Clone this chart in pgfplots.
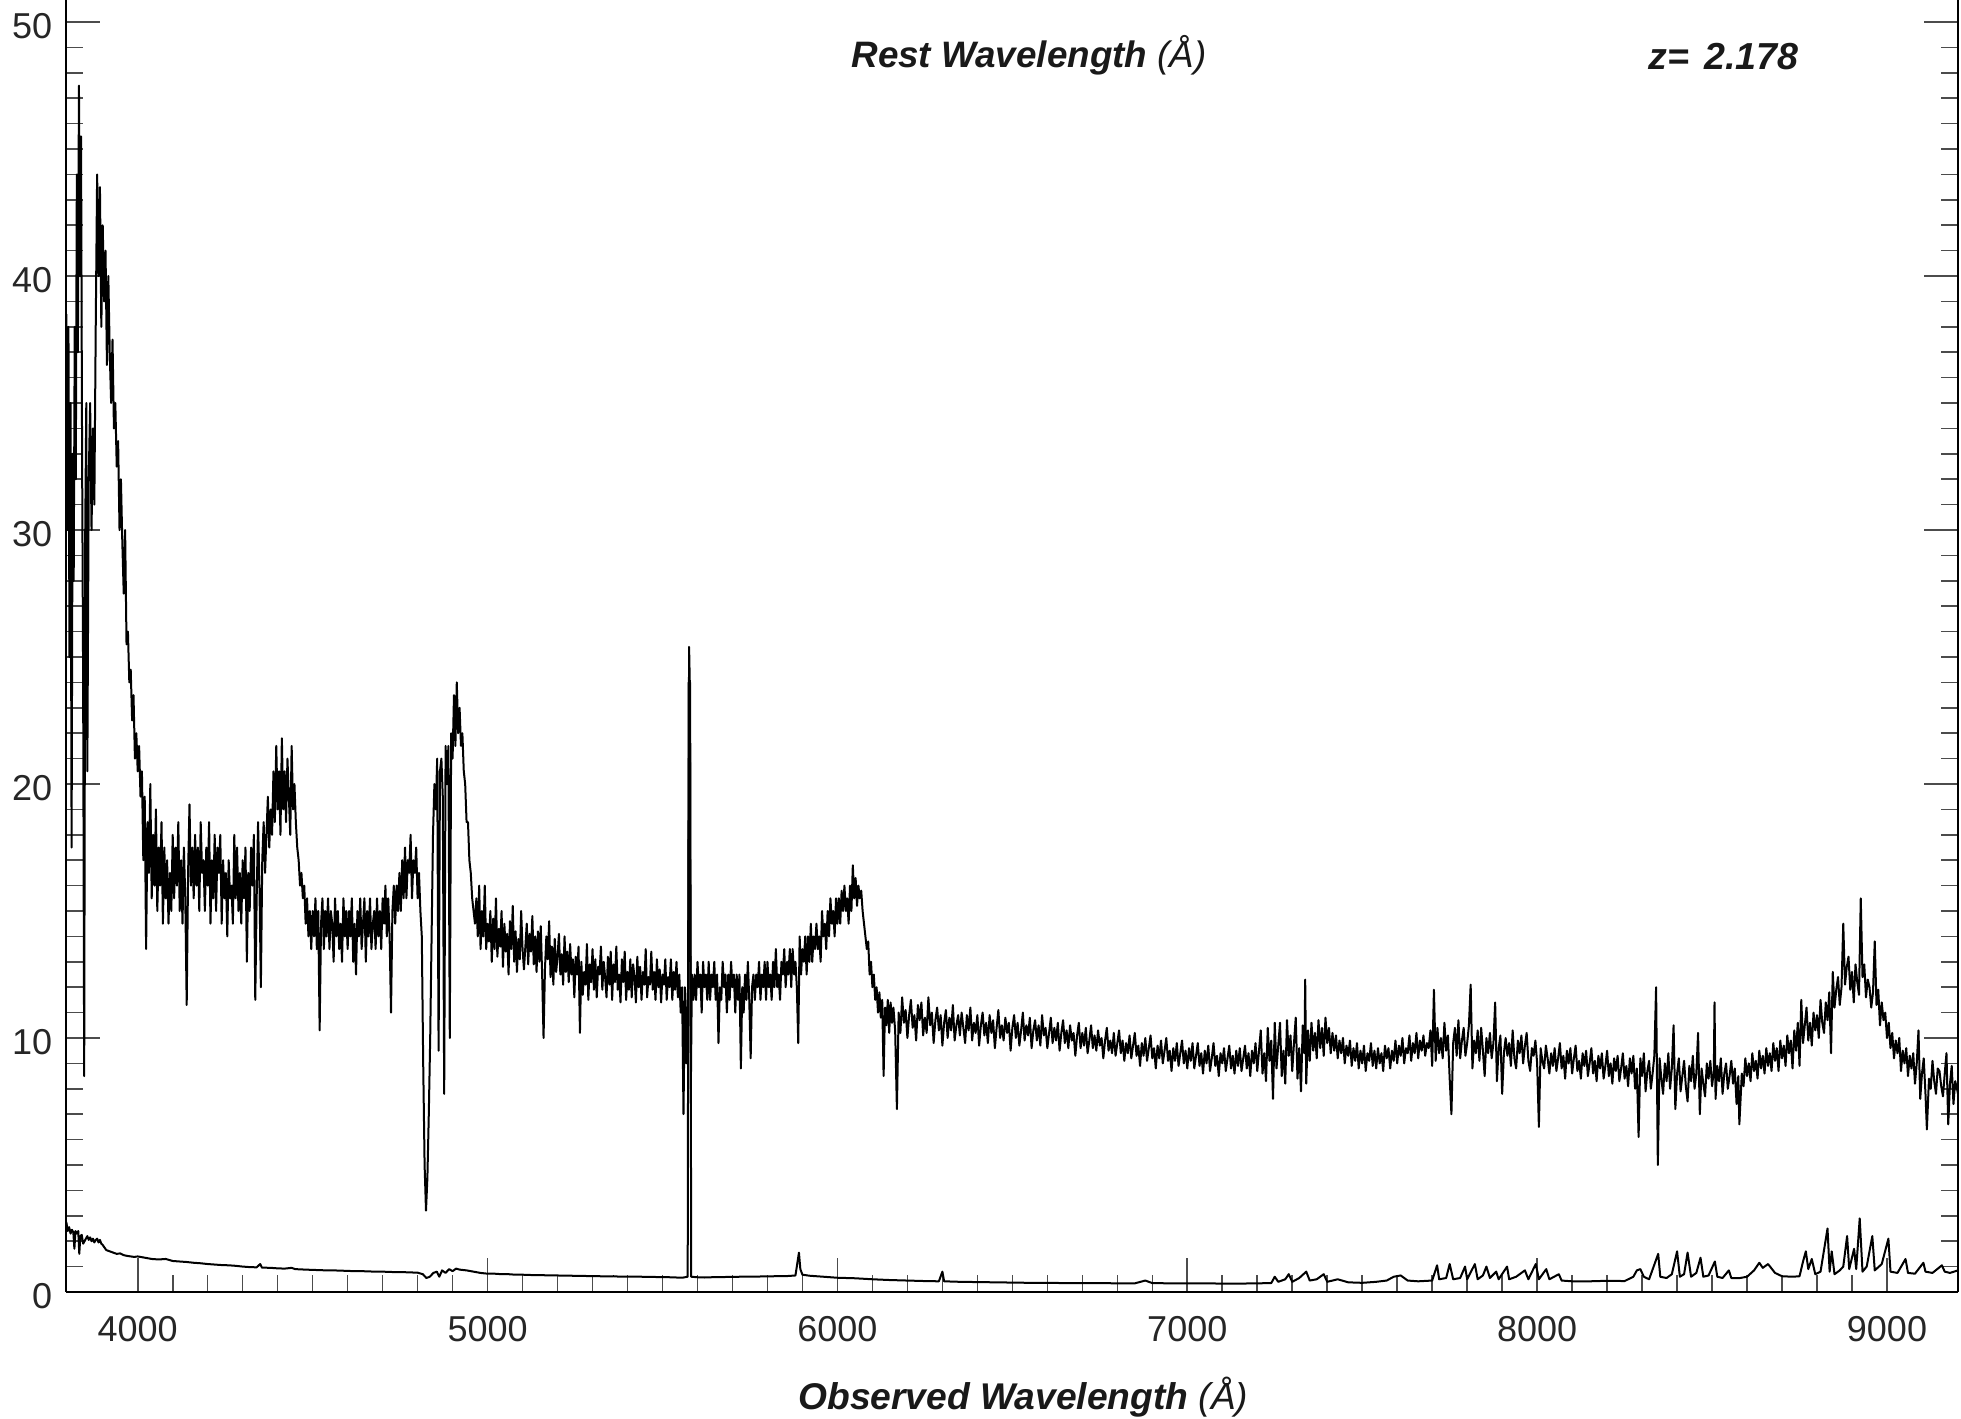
\documentclass[border=0pt]{standalone}
\usepackage{fontspec}
\setmainfont{Liberation Sans}
\usepackage{pgfplots}
\usepackage{pgfplotstable}
\pgfplotsset{compat=1.18}

% flux
\pgfplotstableread{
lam f
3796 38.5
3799 30
3802 38
3805 25
3808 35
3811 17.5
3814 33
3817 28
3820 38
3823 32
3826 44
3829 37
3832 47.5
3835 40
3838 45.5
3841 33
3844 24
3847 8.5
3850 30
3853 35
3856 20.5
3860 32
3864 35
3868 30
3872 34
3876 31
3880 38
3884 44
3888 40
3892 43.5
3896 38
3900 42
3904 39
3908 41
3912 36.5
3916 40
3920 37
3924 35
3928 37.5
3932 34
3936 35
3940 32.5
3944 33.5
3948 30
3952 32
3956 29.5
3960 27.5
3964 30
3968 25.5
3972 26
3976 24
3980 24.5
3984 22.5
3988 23.5
3992 21
3996 22
4000 20.5
4004 21.5
4008 19.5
4012 20.5
4016 17
4020 19.5
4024 13.5
4028 18.5
4032 16.5
4036 20
4040 15.5
4044 18
4048 16
4052 19
4056 15
4060 17.5
4064 16
4068 18.5
4072 14.5
4076 17.5
4080 15.5
4084 17
4088 14.5
4092 16.5
4096 15
4100 18
4104 15.5
4108 17.5
4112 16
4116 18.5
4120 15
4124 17
4128 14.5
4132 17.5
4136 15.5
4140 11.3
4144 16.5
4148 19.2
4152 16
4156 17.5
4160 15.5
4164 18
4168 16
4172 17.5
4176 15
4180 18.5
4184 16.5
4188 17
4192 15
4196 17.5
4200 16
4204 18.5
4208 14.5
4212 17
4216 15.5
4220 18
4224 15
4228 17.5
4232 16.5
4236 18
4240 14.5
4244 17
4248 15.5
4252 16.5
4256 14
4260 17
4264 15.5
4268 16
4272 14.5
4276 18
4280 15.5
4284 17.5
4288 15
4292 16.5
4296 14.5
4300 17
4304 15.5
4308 17.5
4312 13
4316 16.5
4320 15
4324 17.5
4328 16
4332 18
4336 11.5
4340 15.5
4344 18.5
4348 16
4352 12
4356 17
4360 18.5
4364 16.5
4368 18
4372 19.5
4376 17.5
4380 19
4384 18
4388 20.5
4392 18.5
4396 21.5
4400 19
4404 20.5
4408 18
4412 21.8
4416 19
4420 20.5
4424 18.5
4428 21
4432 19.5
4436 18
4440 21.5
4444 19
4448 20
4452 18.5
4456 17.5
4460 17
4464 16
4468 16.5
4472 15.5
4476 16
4480 14.5
4484 15.5
4488 14
4492 15
4496 13.5
4500 15
4504 14
4508 15.5
4512 13.5
4516 15
4520 10.3
4524 14.5
4528 15.5
4532 13.5
4536 15
4540 14
4544 15.5
4548 13.5
4552 15
4556 14.5
4560 13
4564 15.5
4568 14
4572 15
4576 13.5
4580 14.5
4584 13
4588 15.5
4592 14
4596 15
4600 13.5
4604 15
4608 14
4612 15.5
4616 13
4620 14.5
4624 12.5
4628 15
4632 14
4636 15.5
4640 13.5
4644 14.5
4648 15.5
4652 13
4656 15
4660 14
4664 15.5
4668 13.5
4672 14.5
4676 15
4680 13.5
4684 15.5
4688 14
4692 15
4696 13.5
4700 15.5
4704 14.5
4708 16
4712 14
4716 15.5
4720 14
4724 11
4728 15
4732 16
4736 14.5
4740 16
4744 15
4748 16.5
4752 15
4756 17
4760 15.5
4764 17.5
4768 15.5
4772 17
4776 16.5
4780 18
4784 15.5
4788 17
4792 16.5
4796 17.5
4800 15.5
4804 16.5
4808 15
4812 14
4816 9
4820 5
4824 3.2
4828 4.5
4832 7
4836 10
4840 14
4844 18
4848 20
4852 19
4856 21
4860 9.5
4864 20.5
4868 21
4872 19.5
4876 7.8
4880 21.5
4884 20
4888 21.5
4892 10
4896 22
4900 21
4904 23.5
4908 21.5
4912 24
4916 22
4920 23
4924 21.5
4928 22
4932 20.5
4936 20
4940 18.5
4944 18.5
4948 17
4952 16.5
4956 15.5
4960 15
4964 14.5
4968 15.5
4972 14
4976 16
4980 13.5
4984 15
4988 14
4992 16
4996 13.5
5000 14.5
5004 13.8
5008 15
5012 13
5016 14.7
5020 13.5
5024 15.5
5028 13.2
5032 14.3
5036 13.6
5040 15
5044 12.8
5048 14.5
5052 13.4
5056 14.1
5060 12.5
5064 14.6
5068 13.5
5072 15.2
5076 13
5080 14.2
5084 12.6
5088 13.9
5092 13.1
5096 15
5100 13.5
5104 12.7
5108 13.6
5112 14.5
5116 12.9
5120 14.1
5124 13.4
5128 14.8
5132 12.9
5136 14
5140 12.6
5144 14.2
5148 13
5152 14.4
5156 12.5
5160 10
5164 12.7
5168 14
5172 13.1
5176 14.6
5180 12.4
5184 13.6
5188 12.1
5192 13.9
5196 12.6
5200 13.2
5204 14.1
5208 12.5
5212 13.3
5216 12.1
5220 14
5224 12.6
5228 13.4
5232 12.2
5236 13.7
5240 12.5
5244 13.1
5248 11.6
5252 13.2
5256 12.5
5260 13.6
5264 10.2
5268 13
5272 11.7
5276 12.6
5280 12.1
5284 13.7
5288 11.5
5292 12.9
5296 12.2
5300 13.5
5304 11.9
5308 13.1
5312 11.6
5316 12.8
5320 12.5
5324 13.6
5328 11.9
5332 13
5336 12.4
5340 11.6
5344 13.2
5348 12.1
5352 13.4
5356 11.5
5360 12.9
5364 12.2
5368 13.6
5372 11.9
5376 12.5
5380 11.4
5384 13.1
5388 12.2
5392 13.4
5396 11.5
5400 12.6
5404 11.9
5408 13.1
5412 11.6
5416 12.9
5420 12.4
5424 11.4
5428 13.2
5432 12
5436 12.8
5440 11.5
5444 12.6
5448 12.1
5452 13.5
5456 11.6
5460 12.4
5464 12.1
5468 13.4
5472 11.9
5476 12.6
5480 11.5
5484 13.1
5488 12
5492 12.7
5496 11.4
5500 12.5
5504 12.1
5508 13.1
5512 11.5
5516 12.4
5520 12
5524 13.1
5528 11.5
5532 12.6
5536 11.9
5540 13
5544 11.6
5548 12.5
5552 11
5556 12
5560 7
5564 12
5568 9
5573 12
5576 25.4
5578 24
5581 8
5584 12.5
5588 11.5
5592 12.5
5596 11.5
5600 13
5604 12
5608 12.5
5612 11
5616 13
5620 12
5624 12.5
5628 11.5
5632 13
5636 11.5
5640 12.5
5644 12
5648 13
5652 11.5
5656 12.5
5660 9.8
5664 12
5668 11.5
5672 13
5676 12
5680 12.5
5684 11
5688 12.5
5692 11.5
5696 13
5700 12
5704 12.5
5708 11
5712 12.5
5716 11.5
5720 12.5
5724 8.8
5728 12
5732 11
5736 12.5
5740 11.5
5744 13
5748 11.5
5752 9.2
5756 12
5760 12.5
5764 11.5
5768 12.5
5772 12
5776 13
5780 11.5
5784 12.5
5788 12
5792 13
5796 11.5
5800 13
5804 12
5808 12.5
5812 11.5
5816 13
5820 12
5824 13.5
5828 12
5832 12.5
5836 11.5
5840 13
5844 12.5
5848 13.5
5852 12
5856 13
5860 12.5
5864 13.5
5868 12
5872 13.5
5876 12.5
5880 13
5884 12
5888 9.8
5892 14
5896 12.5
5900 13.5
5904 13
5908 14
5912 12.5
5916 14
5920 13
5924 14.5
5928 13
5932 14
5936 13.5
5940 14.5
5944 13.5
5948 14
5952 13
5956 15
5960 14
5964 14.5
5968 13.5
5972 15
5976 14
5980 15.5
5984 14.5
5988 15
5992 14
5996 15.5
6000 14.5
6004 15.5
6008 14.5
6012 15.8
6016 15
6020 16
6024 15
6028 15.5
6032 14.5
6036 16
6040 15
6044 16.8
6048 15.5
6052 16.3
6056 15.2
6060 16
6064 15.5
6068 15.8
6072 15
6076 14.5
6080 14
6084 13.5
6088 13.8
6092 12.5
6096 13
6100 12
6104 12.5
6108 11.5
6112 12
6116 11
6120 11.8
6124 10.8
6128 11.5
6132 8.5
6136 11.2
6140 10.5
6144 11.5
6148 10.2
6152 11.4
6156 10.6
6160 11.2
6165 10.3
6170 7.2
6175 11.0
6180 10.2
6185 11.6
6190 10.6
6195 11.1
6200 10.0
6205 10.9
6210 11.5
6215 10.4
6220 10.9
6225 9.9
6230 11.3
6235 10.7
6240 11.4
6245 10.1
6250 10.8
6255 10.2
6260 11.6
6265 10.5
6270 11.0
6275 9.8
6280 10.7
6285 11.2
6290 10.3
6295 10.9
6300 9.7
6305 10.6
6310 11.1
6315 10.0
6320 10.8
6325 10.3
6330 11.3
6335 9.9
6340 10.5
6345 10.9
6350 10.1
6355 11.0
6360 10.4
6365 9.8
6370 10.9
6375 10.3
6380 11.2
6385 9.9
6390 10.6
6395 10.2
6400 10.9
6405 9.7
6410 10.5
6415 11.0
6420 10.1
6425 10.6
6430 9.8
6435 10.9
6440 10.2
6445 10.7
6450 9.6
6455 10.4
6460 11.1
6465 10.0
6470 10.5
6475 9.9
6480 10.8
6485 10.2
6490 10.6
6495 9.5
6500 10.4
6505 10.9
6510 10.0
6515 10.6
6520 9.7
6525 10.3
6530 11.0
6535 9.9
6540 10.5
6545 10.1
6550 10.8
6555 9.6
6560 10.3
6565 10.7
6570 9.9
6575 10.5
6580 9.7
6585 10.9
6590 10.1
6595 10.4
6600 9.6
6605 10.2
6610 10.8
6615 9.8
6620 10.4
6625 9.9
6630 10.6
6635 9.5
6640 10.2
6645 10.7
6650 9.8
6655 10.3
6660 9.6
6665 10.5
6670 9.9
6675 10.2
6680 9.3
6685 10.1
6690 10.6
6695 9.6
6700 10.2
6705 9.7
6710 10.4
6715 9.4
6720 9.9
6725 10.5
6730 9.6
6735 10.1
6740 9.5
6745 10.3
6750 9.7
6755 10.0
6760 9.2
6765 9.9
6770 10.4
6775 9.5
6780 9.9
6785 9.4
6790 10.2
6795 9.3
6800 9.8
6805 10.3
6810 9.4
6815 9.9
6820 9.1
6825 9.8
6830 9.4
6835 10.1
6840 9.2
6845 9.7
6850 10.2
6855 9.3
6860 9.7
6865 8.9
6870 9.8
6875 9.3
6880 10.0
6885 9.1
6890 9.6
6895 10.1
6900 9.2
6905 9.6
6910 8.8
6915 9.7
6920 9.2
6925 9.9
6930 9.0
6935 9.5
6940 10.0
6945 9.1
6950 9.5
6955 8.7
6960 9.6
6965 9.1
6970 9.8
6975 8.9
6980 9.4
6985 9.9
6990 9.0
6995 9.5
7000 8.8
7005 9.6
7010 9.1
7015 9.8
7020 8.8
7025 9.3
7030 9.8
7035 8.9
7040 9.4
7045 8.6
7050 9.5
7055 9.0
7060 9.7
7065 8.7
7070 9.2
7075 9.8
7080 8.9
7085 9.3
7090 8.5
7095 9.4
7100 9.0
7105 9.6
7110 8.7
7115 9.2
7120 9.7
7125 8.8
7130 9.3
7135 8.6
7140 9.5
7145 8.9
7150 9.6
7155 8.7
7160 9.2
7165 9.7
7170 8.8
7175 9.4
7180 8.5
7185 9.5
7190 9.0
7195 9.8
7200 8.7
7205 9.5
7210 10.3
7215 8.6
7220 9.4
7225 8.3
7230 10.4
7235 9.1
7240 9.9
7245 7.6
7250 10.6
7255 8.8
7260 9.7
7265 10.6
7270 8.5
7275 9.5
7280 8.2
7285 10.7
7290 9.3
7295 10.1
7300 8.7
7305 9.8
7310 10.8
7315 8.4
7320 9.6
7325 7.9
7330 10.5
7335 9.4
7337 12.3
7340 8.2
7345 10.3
7350 9.1
7355 10.6
7360 9.5
7365 10.2
7370 9.2
7375 10.7
7380 9.6
7385 10.4
7390 9.3
7395 10.8
7400 9.8
7405 10.4
7410 9.4
7415 10.2
7420 9.5
7425 10.1
7430 9.2
7435 9.9
7440 9.4
7445 10.0
7450 9.0
7455 9.7
7460 9.3
7465 9.9
7470 8.9
7475 9.6
7480 9.1
7485 9.8
7490 8.8
7495 9.5
7500 9.0
7505 9.7
7510 8.7
7515 9.4
7520 9.1
7525 9.8
7530 8.9
7535 9.5
7540 8.8
7545 9.6
7550 9.0
7555 9.4
7560 8.7
7565 9.7
7570 9.2
7575 9.6
7580 8.8
7585 9.5
7590 9.1
7595 9.9
7600 9.0
7605 9.7
7610 9.3
7615 10.0
7620 9.0
7625 9.6
7630 9.4
7635 10.1
7640 9.1
7645 9.8
7650 9.4
7655 10.2
7660 9.2
7665 9.9
7670 9.5
7675 10.1
7680 9.3
7685 9.8
7690 9.6
7695 10.3
7700 8.9
7705 11.9
7710 9.1
7715 10.4
7720 9.4
7725 10.0
7730 9.2
7735 10.6
7740 9.5
7745 10.1
7750 8.4
7755 7.0
7760 9.8
7765 10.4
7770 9.3
7775 10.7
7780 9.2
7785 9.9
7790 10.4
7795 9.3
7800 9.8
7805 10.5
7810 12.1
7815 8.8
7820 9.9
7825 9.4
7830 10.3
7835 9.1
7840 10.4
7845 9.5
7850 8.5
7855 10.0
7860 9.4
7865 10.2
7870 9.2
7875 9.8
7880 11.4
7885 8.3
7890 9.6
7895 10.1
7900 7.8
7905 9.4
7910 10.0
7915 9.3
7920 9.8
7925 8.9
7930 10.3
7935 9.2
7940 8.8
7945 9.9
7950 9.4
7955 10.1
7960 9.0
7965 9.7
7970 10.2
7975 9.1
7980 8.7
7985 9.6
7990 9.3
7995 9.9
8000 9.0
8005 6.5
8010 9.6
8015 9.1
8020 8.8
8025 9.7
8030 9.2
8035 8.6
8040 9.4
8045 8.9
8050 9.6
8055 8.7
8060 9.2
8065 9.8
8070 8.8
8075 9.3
8080 8.4
8085 9.5
8090 9.0
8095 9.6
8100 8.6
8105 9.2
8110 9.7
8115 8.7
8120 9.1
8125 8.4
8130 9.4
8135 8.9
8140 9.5
8145 8.5
8150 9.0
8155 9.6
8160 8.6
8165 9.1
8170 8.3
8175 9.3
8180 8.8
8185 9.4
8190 8.4
8195 8.9
8200 9.5
8205 8.5
8210 9.0
8215 8.2
8220 9.2
8225 8.7
8230 9.3
8235 8.3
8240 8.8
8245 9.4
8250 8.4
8255 8.9
8260 8.1
8265 9.2
8270 8.6
8275 9.3
8280 8.0
8285 8.8
8290 6.1
8295 9.2
8300 8.5
8305 9.4
8310 7.9
8315 8.7
8320 9.1
8325 8.0
8330 8.6
8335 9.3
8340 12.0
8345 5.0
8350 9.2
8355 8.4
8360 7.8
8365 9.0
8370 8.3
8375 9.4
8380 8.0
8385 8.8
8390 10.5
8395 7.2
8400 8.6
8405 9.2
8410 7.9
8415 8.5
8420 9.1
8425 8.1
8430 7.5
8435 8.9
8440 8.3
8445 9.3
8450 8.0
8455 8.6
8460 10.2
8465 7.0
8470 8.8
8475 8.2
8480 7.7
8485 9.0
8490 8.4
8495 9.1
8500 8.1
8505 8.7
8507 11.4
8510 7.6
8515 8.9
8520 8.3
8525 9.2
8530 7.8
8535 8.6
8540 9.0
8545 8.0
8550 8.5
8555 9.1
8560 8.2
8565 8.8
8570 7.4
8575 8.5
8578 6.6
8585 8.6
8590 8.1
8595 9.2
8600 8.5
8605 9.0
8610 8.3
8615 9.4
8620 8.7
8625 9.1
8630 8.4
8635 9.5
8640 8.8
8645 9.3
8650 8.6
8655 9.6
8660 8.9
8665 9.4
8670 8.7
8675 9.8
8680 9.1
8685 9.6
8690 8.7
8695 9.9
8700 9.2
8705 9.7
8710 8.9
8715 10.1
8720 9.4
8725 9.9
8730 8.8
8735 10.3
8740 9.5
8745 10.6
8750 8.9
8755 11.5
8760 9.8
8765 10.5
8770 11.2
8775 9.9
8780 10.6
8785 9.7
8790 11.0
8795 10.3
8800 10.9
8805 10.0
8810 11.5
8815 10.6
8820 10.2
8825 11.4
8830 10.7
8835 11.8
8840 9.4
8845 12.6
8850 11.2
8855 11.9
8860 12.4
8865 11.3
8870 12.0
8875 14.5
8880 12.1
8885 12.8
8890 13.2
8895 11.9
8900 12.6
8905 11.4
8910 12.9
8915 12.2
8920 11.7
8925 15.5
8930 12.4
8935 12.9
8940 11.6
8945 12.3
8950 12.0
8955 11.2
8960 11.8
8965 13.8
8970 11.3
8975 11.9
8980 10.5
8985 11.4
8990 10.7
8995 11.0
9000 10.0
9005 10.6
9010 9.6
9015 10.2
9020 9.2
9025 9.9
9030 9.4
9035 10.0
9040 8.7
9045 9.5
9050 9.0
9055 9.6
9060 8.5
9065 9.3
9070 8.8
9075 9.4
9080 8.2
9085 9.0
9090 10.3
9095 7.6
9100 8.6
9105 9.2
9110 7.8
9114 6.4
9120 8.4
9125 8.0
9130 9.1
9135 8.3
9140 7.8
9145 8.8
9150 8.7
9155 8.1
9160 7.7
9165 8.6
9170 9.4
9175 6.6
9180 8.2
9185 8.9
9190 7.4
9195 8.3
9200 8.0
9203 7.8
}\flux

% error spectrum
\pgfplotstableread{
lam e
3796 2.75
3800 2.4
3804 2.55
3808 2.3
3812 2.45
3816 2.35
3819 1.7
3822 2.4
3826 2.3
3830 2.4
3833 1.5
3836 2.2
3840 2.25
3844 1.9
3848 2.0
3852 2.1
3856 2.2
3860 2.05
3864 2.15
3868 2.0
3872 2.1
3876 1.95
3880 2.05
3884 2.1
3888 1.95
3892 2.05
3896 1.9
3900 1.85
3905 1.75
3910 1.65
3920 1.6
3930 1.55
3940 1.5
3950 1.52
3960 1.45
3970 1.42
3980 1.4
3990 1.38
4000 1.4
4020 1.35
4040 1.3
4060 1.28
4080 1.3
4100 1.22
4120 1.2
4140 1.18
4160 1.15
4180 1.13
4200 1.1
4220 1.08
4240 1.06
4260 1.05
4280 1.03
4300 1.0
4320 0.98
4340 0.97
4350 1.1
4355 0.96
4380 0.95
4400 0.93
4420 0.92
4440 0.95
4450 0.9
4480 0.88
4500 0.87
4520 0.86
4540 0.85
4560 0.85
4580 0.84
4600 0.83
4620 0.82
4640 0.82
4660 0.81
4680 0.8
4700 0.8
4720 0.79
4740 0.78
4760 0.78
4780 0.77
4800 0.76
4815 0.7
4825 0.55
4835 0.6
4845 0.75
4855 0.8
4862 0.6
4870 0.85
4880 0.75
4890 0.9
4900 0.82
4910 0.92
4920 0.88
4940 0.85
4960 0.8
4980 0.75
5000 0.72
5020 0.72
5040 0.7
5060 0.7
5080 0.68
5100 0.68
5120 0.67
5140 0.66
5160 0.66
5180 0.65
5200 0.65
5220 0.64
5240 0.64
5260 0.63
5280 0.63
5300 0.62
5320 0.62
5340 0.61
5360 0.62
5380 0.6
5400 0.6
5420 0.6
5440 0.6
5460 0.59
5480 0.59
5500 0.58
5520 0.58
5540 0.57
5560 0.57
5572 0.6
5575 24
5579 24
5582 0.6
5600 0.58
5620 0.57
5640 0.58
5660 0.58
5680 0.59
5700 0.59
5720 0.6
5740 0.6
5760 0.6
5780 0.61
5800 0.61
5820 0.62
5840 0.62
5860 0.63
5880 0.65
5890 1.55
5894 0.9
5900 0.68
5920 0.64
5940 0.62
5960 0.6
5980 0.58
6000 0.56
6050 0.54
6100 0.5
6150 0.47
6200 0.45
6250 0.43
6290 0.42
6300 0.8
6305 0.42
6350 0.4
6400 0.39
6450 0.38
6500 0.37
6550 0.36
6600 0.36
6650 0.35
6700 0.35
6750 0.35
6800 0.34
6850 0.34
6880 0.45
6900 0.35
6950 0.34
7000 0.34
7050 0.34
7100 0.33
7150 0.33
7200 0.34
7240 0.35
7250 0.6
7260 0.4
7280 0.5
7290 0.7
7300 0.4
7320 0.55
7340 0.8
7350 0.45
7370 0.5
7390 0.7
7400 0.4
7430 0.5
7460 0.38
7500 0.36
7540 0.4
7570 0.45
7590 0.6
7610 0.65
7630 0.45
7660 0.42
7700 0.45
7714 1.05
7720 0.5
7740 0.55
7750 1.1
7760 0.5
7780 0.55
7794 1.0
7800 0.5
7822 1.1
7830 0.5
7845 0.65
7855 1.0
7865 0.55
7883 0.8
7890 0.5
7914 1.0
7920 0.5
7940 0.6
7965 0.85
7975 0.5
7996 1.1
8005 0.5
8026 0.9
8035 0.5
8062 0.7
8070 0.45
8100 0.42
8150 0.42
8200 0.44
8250 0.43
8275 0.6
8285 0.85
8295 0.9
8305 0.6
8320 0.5
8346 1.5
8352 0.6
8370 0.55
8385 0.7
8400 1.6
8408 0.6
8420 0.7
8430 1.55
8440 0.6
8455 0.75
8467 1.35
8475 0.6
8490 0.65
8508 1.2
8515 0.6
8530 0.55
8548 0.85
8555 0.55
8580 0.55
8600 0.6
8620 0.85
8635 1.15
8645 0.95
8660 1.1
8680 0.75
8700 0.62
8730 0.6
8750 0.62
8760 1.2
8768 1.6
8775 0.9
8785 1.3
8795 0.7
8810 0.8
8830 2.5
8836 0.8
8842 1.6
8850 0.7
8865 0.85
8875 1.0
8886 2.2
8892 0.9
8906 1.7
8912 0.9
8922 2.9
8930 0.8
8942 1.0
8958 2.2
8965 0.85
8985 1.1
9004 2.1
9010 0.8
9030 0.75
9053 1.3
9060 0.75
9080 0.72
9104 1.15
9110 0.8
9130 0.75
9157 1.05
9165 0.8
9180 0.75
9203 0.85
}\err

\begin{document}
\begin{tikzpicture}
\begin{axis}[
    scale only axis,
    width=473pt, height=323pt,
    xmin=3795, xmax=9203,
    ymin=0, ymax=50.87,
    clip=false,
    axis x line*=bottom,
    axis y line*=box,
    axis line style={-, black, line width=0.5pt},
    tick align=inside,
    xtick pos=bottom,
    ytick pos=both,
    yticklabel pos=left,
    xtick={4000,5000,...,9000},
    ytick={0,10,...,50},
    minor x tick num=9,
    minor y tick num=9,
    major tick length=8.5pt,
    minor tick length=4.2pt,
    tick style={black!70, line width=0.4pt},
    /pgf/number format/assume math mode=true,
    /pgf/number format/1000 sep={},
    ticklabel style={font=\fontsize{9}{10}\selectfont, text=black!85},
    xticklabel style={anchor=base, yshift=-12.4pt},
    yticklabel style={anchor=east, inner sep=0pt, xshift=-3.25pt, yshift=-1pt},
]
\addplot[black, line width=0.5pt, line join=round] table[x=lam, y=f] {\flux};
\addplot[black, line width=0.5pt, line join=round] table[x=lam, y=e] {\err};

\coordinate (bl) at (rel axis cs:0,0);
\coordinate (tr) at (rel axis cs:1,1);

\node[font=\fontsize{9.2}{11}\selectfont, text=black!90, anchor=center]
    at (axis description cs:0.509,0.957) {\textbf{\textit{Rest Wavelength}} \textit{(Å)}};
\node[font=\fontsize{9.4}{11}\selectfont\bfseries\itshape, text=black!90, anchor=center]
    at (axis description cs:0.876,0.956) {z=\hspace{0.4em}2.178};
\node[font=\fontsize{9.3}{11}\selectfont, text=black!90, anchor=base]
    at (axis description cs:0.506,0) [yshift=-29.5pt] {\textbf{\textit{Observed Wavelength}} \textit{(Å)}};
\end{axis}
\pgfresetboundingbox
\path[use as bounding box] ([xshift=-16.5pt,yshift=-31.75pt]bl) rectangle ([xshift=0.75pt]tr);
\end{tikzpicture}
\end{document}
